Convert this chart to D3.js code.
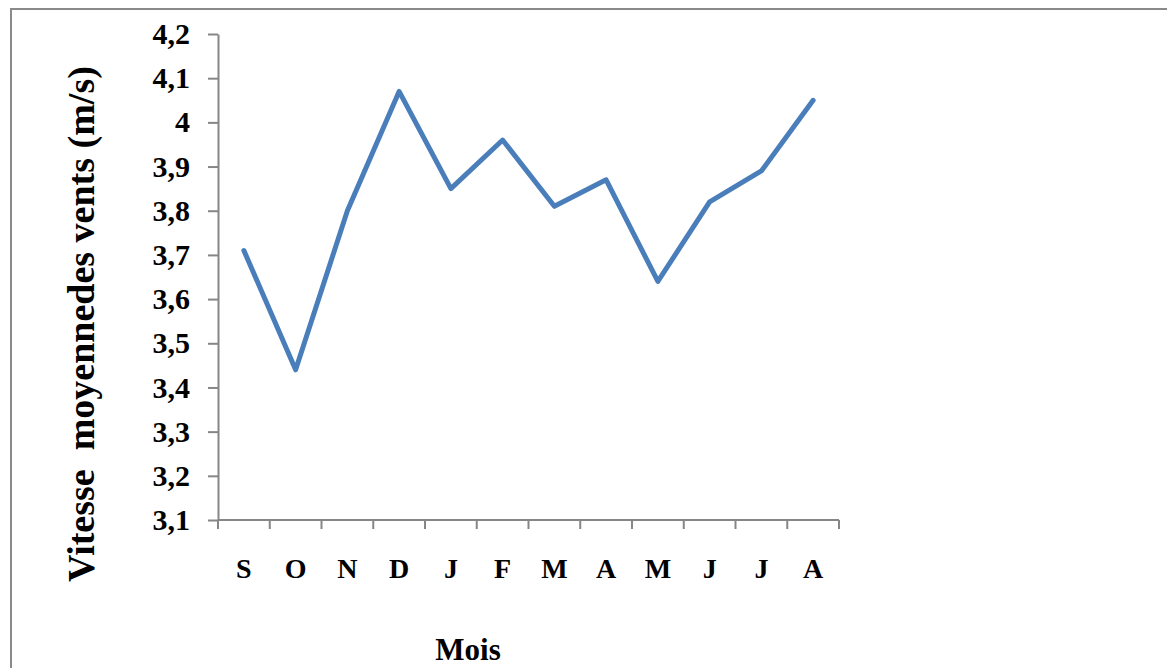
<!DOCTYPE html>
<html><head><meta charset="utf-8">
<script src="https://cdn.jsdelivr.net/npm/d3@7"></script>
<style>
html,body{margin:0;padding:0;background:#fff;}
svg{display:block;font-family:"Liberation Serif","Times New Roman",serif;font-weight:bold;}
svg text{font-family:"Liberation Serif","Times New Roman",serif !important;font-weight:bold;}
</style></head>
<body>
<svg id="c" width="1167" height="668"></svg>
<script>
const months = ["S","O","N","D","J","F","M","A","M","J","J","A"];
const speeds = [3.71,3.44,3.80,4.07,3.85,3.96,3.81,3.87,3.64,3.82,3.89,4.05];
const yTicks = [3.1,3.2,3.3,3.4,3.5,3.6,3.7,3.8,3.9,4.0,4.1,4.2];
const yTitle = "Vitesse\u00a0\u00a0moyennedes vents (m/s)";
const xTitle = "Mois";

const svg = d3.select("#c");
const L = 218, R = 839, T = 34, B = 520;
const axisColor = "#868686";

// outer frame
svg.append("rect").attr("x",11).attr("y",9).attr("width",1200).attr("height",700)
  .attr("fill","none").attr("stroke","#8a8a8a").attr("stroke-width",2);

const idx = months.map((d,i)=>i);
const x = d3.scaleBand().domain(idx).range([L,R]).padding(0);
const y = d3.scaleLinear().domain([3.1,4.2]).range([B,T]);

// y axis
const yAxis = d3.axisLeft(y).tickValues(yTicks).tickSizeInner(10).tickSizeOuter(0).tickPadding(18)
  .tickFormat(d => String(+d.toFixed(1)).replace(".", ","));
const gy = svg.append("g").attr("transform",`translate(${L},0)`).call(yAxis);
gy.attr("font-size",null).attr("font-family",null);
gy.select(".domain").attr("stroke",axisColor).attr("stroke-width",2);
gy.selectAll(".tick line").attr("stroke",axisColor).attr("stroke-width",2);
gy.selectAll(".tick text").style("font-size","30px").style("fill","#000");

// x axis (labels at band centres, ticks at boundaries)
const xAxis = d3.axisBottom(x).tickSize(0).tickPadding(38).tickFormat(i => months[i]);
const gx = svg.append("g").attr("transform",`translate(0,${B})`).call(xAxis);
gx.attr("font-size",null).attr("font-family",null);
gx.select(".domain").remove();
gx.selectAll(".tick text").style("font-size","28px").style("fill","#000");
const bounds = idx.map(i => x(i)).concat([x(idx[idx.length-1]) + x.bandwidth()]);
svg.append("line").attr("x1",L).attr("x2",R).attr("y1",B).attr("y2",B)
  .attr("stroke",axisColor).attr("stroke-width",2);
svg.selectAll(".xtick").data(bounds).enter().append("line")
  .attr("x1",d=>d).attr("x2",d=>d).attr("y1",B).attr("y2",B+9)
  .attr("stroke",axisColor).attr("stroke-width",2);

// line
const line = d3.line().x((d,i)=>x(i)+x.bandwidth()/2).y(d=>y(d));
svg.append("path").datum(speeds).attr("d",line).attr("fill","none")
  .attr("stroke","#4a7ebb").attr("stroke-width",5)
  .attr("stroke-linejoin","round").attr("stroke-linecap","round");

// titles
svg.append("text").attr("transform","translate(94,324) rotate(-90)")
  .attr("text-anchor","middle").style("font-size","38px").attr("fill","#000").text(yTitle);
svg.append("text").attr("x",468).attr("y",660).attr("text-anchor","middle")
  .style("font-size","31px").attr("fill","#000").text(xTitle);
</script>
</body></html>
